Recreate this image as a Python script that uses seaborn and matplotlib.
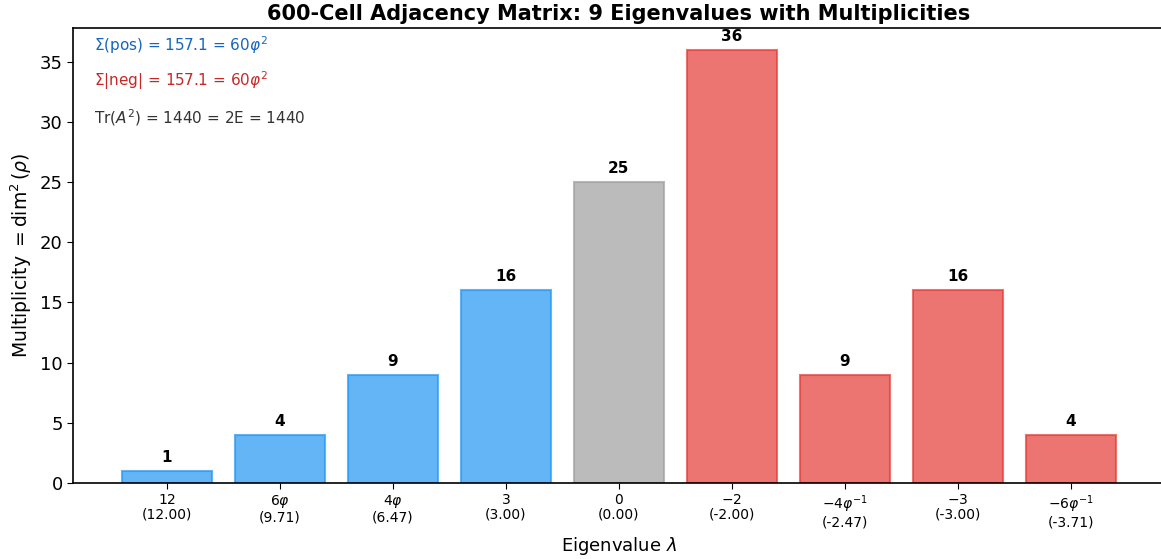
import matplotlib
matplotlib.use("Agg")
import matplotlib.pyplot as plt
import seaborn as sns
import pandas as pd

# eigenvalue labels (symbolic), numeric values and multiplicities
symbols = ["$12$", r"$6\varphi$", r"$4\varphi$", "$3$", "$0$",
           "$-2$", r"$-4\varphi^{-1}$", "$-3$", r"$-6\varphi^{-1}$"]
values = [12.00, 9.71, 6.47, 3.00, 0.00, -2.00, -2.47, -3.00, -3.71]
mults = [1, 4, 9, 16, 25, 36, 9, 16, 4]
colors = ["#2196F3"] * 4 + ["#9E9E9E"] + ["#E53935"] * 4

labels = [f"{s}\n({v:.2f})" for s, v in zip(symbols, values)]
df = pd.DataFrame({"label": labels, "mult": mults})

sns.set_style("ticks", {"text.color": "black", "axes.labelcolor": "black",
                        "xtick.color": "black", "ytick.color": "black",
                        "axes.edgecolor": "black"})
plt.rcParams["font.family"] = ["DejaVu Sans"]

fig = plt.figure(figsize=(11.61, 5.59), dpi=100)
ax = fig.add_axes([0.063, 0.136, 0.940, 0.814])

sns.barplot(data=df, x="label", y="mult", hue="label", palette=colors,
            order=labels, hue_order=labels, legend=False, alpha=0.7,
            saturation=1, width=0.8, linewidth=1.5, ax=ax)
for patch, c in zip(ax.patches, colors):
    patch.set_edgecolor(c)

# value labels on top of the bars
for i, m in enumerate(mults):
    ax.text(i, m + 0.5, str(m), ha="center", va="bottom",
            fontsize=11, fontweight="bold")

ax.set_xlim(-0.83, 8.83)
ax.set_ylim(0, 37.8)
ax.tick_params(axis="x", labelsize=10, length=4, direction="out", bottom=True)
ax.tick_params(axis="y", labelsize=13, length=4, direction="out", left=True)
for t in ax.get_xticklabels():
    t.set_linespacing(1.05)
ax.set_xlabel(r"Eigenvalue $\lambda$", fontsize=13)
ax.set_ylabel(r"Multiplicity $= \dim^2(\rho)$", fontsize=13.5)
ax.set_title("600-Cell Adjacency Matrix: 9 Eigenvalues with Multiplicities",
             fontsize=15, fontweight="bold", pad=6)
for s in ax.spines.values():
    s.set_color("black")
    s.set_linewidth(1.2)

ax.text(0.019, 0.963, r"Σ(pos) = 157.1 = 60$\varphi^2$", transform=ax.transAxes,
        color="#1565C0", fontsize=11, va="center")
ax.text(0.019, 0.884, r"Σ$|$neg$|$ = 157.1 = 60$\varphi^2$", transform=ax.transAxes,
        color="#C62828", fontsize=11, va="center")
ax.text(0.019, 0.802, r"Tr($A^2$) = 1440 = 2E = 1440", transform=ax.transAxes,
        color="#333333", fontsize=11, va="center")

fig.savefig("out.png", dpi=100)
